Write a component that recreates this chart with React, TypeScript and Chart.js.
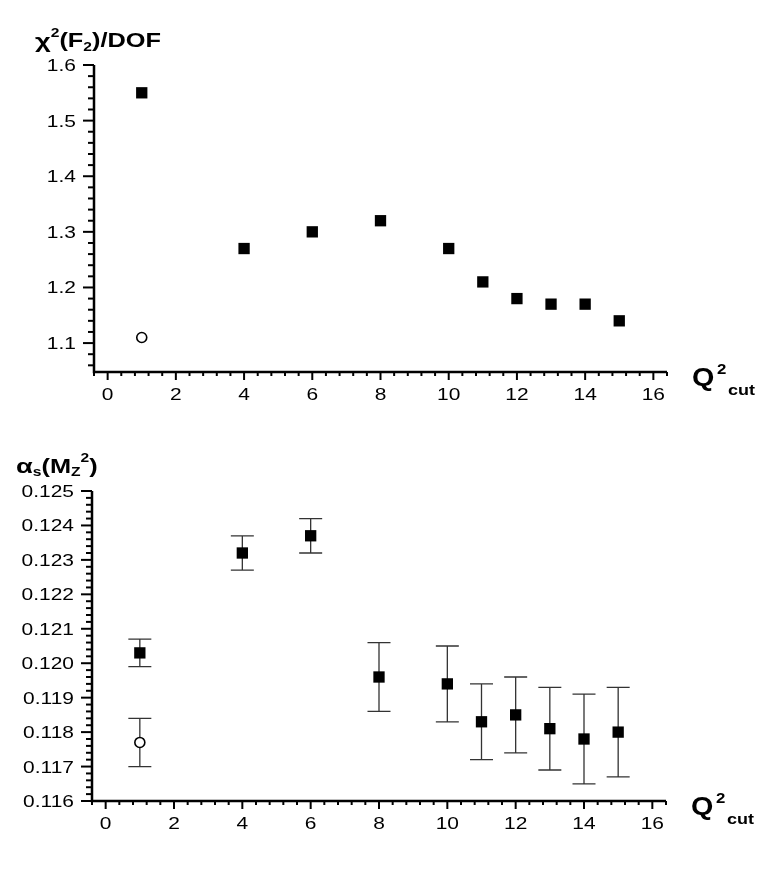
import React, { useEffect, useRef } from "react";
import { Chart, registerables } from "chart.js";

Chart.register(...registerables);

// ---------- data ----------
const xMajorTicks = [0, 2, 4, 6, 8, 10, 12, 14, 16];

const chiQ2 = [1, 4, 6, 8, 10, 11, 12, 13, 14, 15];
const chiValues = [1.55, 1.27, 1.3, 1.32, 1.27, 1.21, 1.18, 1.17, 1.17, 1.14];
const chiOpenQ2 = [1];
const chiOpenValues = [1.11];
const chiYTicks = [1.1, 1.2, 1.3, 1.4, 1.5, 1.6];

const alphaQ2 = [1, 4, 6, 8, 10, 11, 12, 13, 14, 15];
const alphaValues = [0.1203, 0.1232, 0.1237, 0.1196, 0.1194, 0.1183, 0.1185, 0.1181, 0.1178, 0.118];
const alphaLow = [0.1199, 0.1227, 0.1232, 0.1186, 0.1183, 0.1172, 0.1174, 0.1169, 0.1165, 0.1167];
const alphaHigh = [0.1207, 0.1237, 0.1242, 0.1206, 0.1205, 0.1194, 0.1196, 0.1193, 0.1191, 0.1193];
const alphaOpenQ2 = [1];
const alphaOpenValues = [0.1177];
const alphaOpenLow = [0.117];
const alphaOpenHigh = [0.1184];
const alphaYTicks = [0.116, 0.117, 0.118, 0.119, 0.12, 0.121, 0.122, 0.123, 0.124, 0.125];

// ---------- drawing helpers ----------
const FONT = '"Liberation Sans", Arial, Helvetica, sans-serif';
const LABEL_STRETCH = 1.27;
const TITLE_STRETCH = 1.3;

type Seg = { t: string; size: number; dy: number };

function drawStretched(
  ctx: CanvasRenderingContext2D,
  text: string,
  x: number,
  y: number,
  font: string,
  sx: number,
  align: "left" | "center" | "right"
) {
  ctx.save();
  ctx.font = font;
  ctx.textBaseline = "alphabetic";
  ctx.textAlign = "left";
  ctx.fillStyle = "#000";
  const w = ctx.measureText(text).width * sx;
  const x0 = align === "right" ? x - w : align === "center" ? x - w / 2 : x;
  ctx.translate(x0, y);
  ctx.scale(sx, 1);
  ctx.fillText(text, 0, 0);
  ctx.restore();
  return w;
}

function drawRich(ctx: CanvasRenderingContext2D, segs: Seg[], x: number, y: number, sx: number) {
  let cx = x;
  for (const s of segs) {
    const w = drawStretched(ctx, s.t, cx, y + s.dy, `bold ${s.size}px ${FONT}`, sx, "left");
    cx += w;
  }
}

type ErrSet = { xs: number[]; lows: number[]; highs: number[] };

interface PanelSpec {
  pad: { left: number; right: number; top: number; bottom: number };
  yWidth: number;
  xHeight: number;
  xMin: number;
  xMax: number;
  xStep: number;
  yMin: number;
  yMax: number;
  yStep: number;
  yMajors: number[];
  yDigits: number;
  title: Seg[];
  titleX: number;
  titleBase: number;
  datasets: any[];
  errors: ErrSet[];
}

function isIn(v: number, arr: number[], eps: number) {
  return arr.some((a) => Math.abs(a - v) < eps);
}

function makePlugin(spec: PanelSpec) {
  return {
    id: "physAxes",
    beforeDatasetsDraw(chart: any) {
      const ctx: CanvasRenderingContext2D = chart.ctx;
      const xs = chart.scales.x;
      const ys = chart.scales.y;
      ctx.save();
      ctx.strokeStyle = "#333";
      ctx.lineWidth = 1.3;
      for (const e of spec.errors) {
        e.xs.forEach((xv, i) => {
          const px = xs.getPixelForValue(xv);
          const pl = ys.getPixelForValue(e.lows[i]);
          const ph = ys.getPixelForValue(e.highs[i]);
          ctx.beginPath();
          ctx.moveTo(px, pl);
          ctx.lineTo(px, ph);
          ctx.moveTo(px - 11.5, pl);
          ctx.lineTo(px + 11.5, pl);
          ctx.moveTo(px - 11.5, ph);
          ctx.lineTo(px + 11.5, ph);
          ctx.stroke();
        });
      }
      ctx.restore();
    },
    afterDraw(chart: any) {
      const ctx: CanvasRenderingContext2D = chart.ctx;
      const xs = chart.scales.x;
      const ys = chart.scales.y;
      const a = chart.chartArea;
      ctx.save();
      ctx.strokeStyle = "#000";
      ctx.lineWidth = 2.5;
      ctx.lineJoin = "miter";
      ctx.beginPath();
      ctx.moveTo(a.left, a.top);
      ctx.lineTo(a.left, a.bottom);
      ctx.lineTo(a.right, a.bottom);
      ctx.stroke();

      const labelFont = `16.5px ${FONT}`;
      // x ticks
      ctx.lineWidth = 2;
      const kx0 = Math.ceil(spec.xMin / spec.xStep - 1e-6);
      const kx1 = Math.floor(spec.xMax / spec.xStep + 1e-6);
      for (let k = kx0; k <= kx1; k++) {
        const v = k * spec.xStep;
        const major = isIn(v, xMajorTicks, 1e-6);
        const px = xs.getPixelForValue(v);
        ctx.beginPath();
        ctx.moveTo(px, a.bottom);
        ctx.lineTo(px, a.bottom + (major ? 8 : 4));
        ctx.stroke();
      }
      for (const v of xMajorTicks) {
        drawStretched(ctx, String(v), xs.getPixelForValue(v), a.bottom + 28, labelFont, LABEL_STRETCH, "center");
      }
      // y ticks
      const eps = spec.yStep * 1e-4;
      const ky0 = Math.ceil(spec.yMin / spec.yStep - 1e-6);
      const ky1 = Math.floor(spec.yMax / spec.yStep + 1e-6);
      for (let k = ky0; k <= ky1; k++) {
        const v = k * spec.yStep;
        const major = isIn(v, spec.yMajors, eps);
        const py = ys.getPixelForValue(v);
        ctx.beginPath();
        ctx.moveTo(a.left, py);
        ctx.lineTo(a.left - (major ? 11 : 6), py);
        ctx.stroke();
      }
      for (const v of spec.yMajors) {
        drawStretched(ctx, v.toFixed(spec.yDigits), a.left - 18, ys.getPixelForValue(v) + 6, labelFont, LABEL_STRETCH, "right");
      }
      ctx.restore();

      // titles
      drawRich(ctx, spec.title, spec.titleX, spec.titleBase, TITLE_STRETCH);
      drawStretched(ctx, "Q", a.right + 25, a.bottom + 14, `bold 25px ${FONT}`, 1.15, "left");
      drawStretched(ctx, "2", a.right + 50, a.bottom + 1.5, `bold 14px ${FONT}`, 1.2, "left");
      drawStretched(ctx, "cut", a.right + 61, a.bottom + 22.5, `bold 15px ${FONT}`, 1.2, "left");
    },
  };
}

const toPts = (xs: number[], ys: number[]) => xs.map((x, i) => ({ x, y: ys[i] }));

const squareStyle = {
  pointStyle: "rect",
  pointRadius: 8,
  pointHoverRadius: 8,
  backgroundColor: "#000",
  borderColor: "#000",
  borderWidth: 0,
  showLine: false,
};
const circleStyle = {
  pointStyle: "circle",
  pointRadius: 5,
  pointHoverRadius: 5,
  backgroundColor: "#fff",
  borderColor: "#000",
  borderWidth: 1.6,
  showLine: false,
};

const topSpec: PanelSpec = {
  pad: { left: 0, right: 96, top: 65, bottom: 24 },
  yWidth: 94,
  xHeight: 40,
  xMin: -0.4,
  xMax: 16.4,
  xStep: 0.4,
  yMin: 1.048,
  yMax: 1.6,
  yStep: 0.02,
  yMajors: chiYTicks,
  yDigits: 1,
  title: [
    { t: "χ", size: 21, dy: 1 },
    { t: "2", size: 12, dy: -10 },
    { t: "(F", size: 19.5, dy: 0 },
    { t: "2", size: 12, dy: 4 },
    { t: ")/DOF", size: 19.5, dy: 0 },
  ],
  titleX: 35,
  titleBase: 47,
  datasets: [
    { label: "chi2", data: toPts(chiQ2, chiValues), ...squareStyle },
    { label: "chi2 open", data: toPts(chiOpenQ2, chiOpenValues), ...circleStyle },
  ],
  errors: [],
};

const bottomSpec: PanelSpec = {
  pad: { left: 0, right: 97, top: 55, bottom: 31 },
  yWidth: 92,
  xHeight: 40,
  xMin: -0.4,
  xMax: 16.4,
  xStep: 0.4,
  yMin: 0.116,
  yMax: 0.125,
  yStep: 0.0002,
  yMajors: alphaYTicks,
  yDigits: 3,
  title: [
    { t: "α", size: 21, dy: 0 },
    { t: "s", size: 12, dy: 3 },
    { t: "(M", size: 19.5, dy: 0 },
    { t: "Z", size: 12, dy: 3 },
    { t: "2", size: 12, dy: -11 },
    { t: ")", size: 19.5, dy: 0 },
  ],
  titleX: 16,
  titleBase: 473 - 436,
  datasets: [
    { label: "alpha", data: toPts(alphaQ2, alphaValues), ...squareStyle },
    { label: "alpha open", data: toPts(alphaOpenQ2, alphaOpenValues), ...circleStyle },
  ],
  errors: [
    { xs: alphaQ2, lows: alphaLow, highs: alphaHigh },
    { xs: alphaOpenQ2, lows: alphaOpenLow, highs: alphaOpenHigh },
  ],
};

function Panel({ spec, top }: { spec: PanelSpec; top: number }) {
  const ref = useRef<HTMLCanvasElement | null>(null);
  useEffect(() => {
    if (!ref.current) return;
    const chart = new Chart(ref.current, {
      type: "scatter",
      data: { datasets: spec.datasets },
      options: {
        animation: false,
        responsive: false,
        devicePixelRatio: 1,
        events: [],
        layout: { padding: spec.pad },
        plugins: { legend: { display: false }, tooltip: { enabled: false }, title: { display: false } },
        scales: {
          x: {
            type: "linear",
            min: spec.xMin,
            max: spec.xMax,
            grid: { display: false },
            border: { display: false },
            ticks: { display: false },
            afterFit: (s: any) => {
              s.height = spec.xHeight;
            },
          },
          y: {
            type: "linear",
            min: spec.yMin,
            max: spec.yMax,
            grid: { display: false },
            border: { display: false },
            ticks: { display: false },
            afterFit: (s: any) => {
              s.width = spec.yWidth;
            },
          },
        },
      } as any,
      plugins: [makePlugin(spec)],
    });
    return () => chart.destroy();
  }, [spec]);
  return (
    <canvas
      ref={ref}
      width={763}
      height={436}
      style={{ position: "absolute", left: 0, top, width: 763, height: 436, display: "block" }}
    />
  );
}

export default function App() {
  return (
    <div style={{ position: "absolute", left: 0, top: 0, width: 763, height: 872, background: "#fff" }}>
      <Panel spec={topSpec} top={0} />
      <Panel spec={bottomSpec} top={436} />
    </div>
  );
}
